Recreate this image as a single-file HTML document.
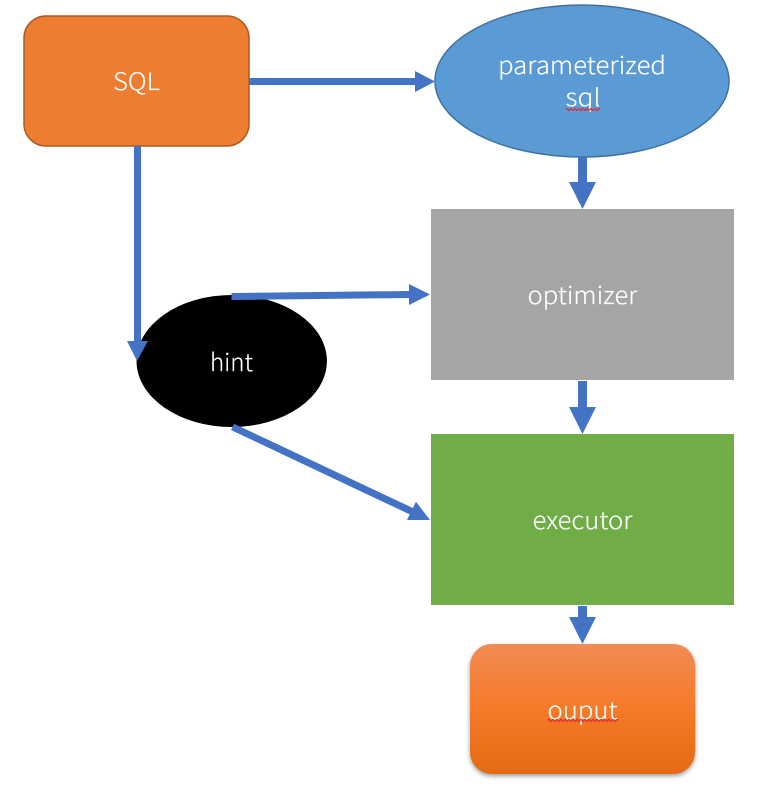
<!DOCTYPE html>
<html>
<head>
<meta charset="utf-8">
<style>
html,body{margin:0;padding:0;background:#fff;width:772px;height:794px;overflow:hidden}
svg{display:block}
text{font-family:"Noto Sans CJK SC","Liberation Sans",sans-serif;font-size:24px;fill:#fff;text-anchor:middle;font-weight:300;stroke:#fff;stroke-width:0.15px}
</style>
</head>
<body>
<svg width="772" height="794" viewBox="0 0 772 794" xmlns="http://www.w3.org/2000/svg">
<defs>
<linearGradient id="g" x1="0" y1="0" x2="0" y2="1">
<stop offset="0" stop-color="#f18c55"/>
<stop offset="0.5" stop-color="#f67a28"/>
<stop offset="1" stop-color="#e56a14"/>
</linearGradient>
<filter id="s" x="-10%" y="-10%" width="120%" height="125%">
<feGaussianBlur stdDeviation="2.5"/>
</filter>
</defs>

<!-- SQL -->
<rect x="24" y="16" width="225" height="130" rx="22" ry="22" fill="#ed7d31" stroke="#ae5a21" stroke-width="1.5"/>
<text x="136.500" y="90" textLength="47" lengthAdjust="spacingAndGlyphs">SQL</text>

<!-- parameterized sql -->
<ellipse cx="582" cy="81" rx="147" ry="76" fill="#5b9bd5" stroke="#41719c" stroke-width="1.5"/>
<text x="582" y="74" textLength="168" lengthAdjust="spacingAndGlyphs">parameterized</text>
<text x="583" y="106" textLength="35" lengthAdjust="spacingAndGlyphs">sql</text>
<path d="M566 109.500 q1 -2 2 0 t2 0 t2 0 t2 0 t2 0 t2 0 t2 0 t2 0 t2 0 t2 0 t2 0 t2 0 t2 0 t2 0 t2 0 t2 0 t2 0" fill="none" stroke="#e0262a" stroke-width="1.2"/>

<!-- optimizer -->
<rect x="431" y="209" width="303" height="171" fill="#a5a5a5"/>
<text x="582.500" y="304" textLength="110" lengthAdjust="spacingAndGlyphs">optimizer</text>

<!-- executor -->
<rect x="431" y="434" width="303" height="171" fill="#70ad47"/>
<text x="582.500" y="529" textLength="100" lengthAdjust="spacingAndGlyphs">executor</text>

<!-- output -->
<rect x="470" y="646" width="225" height="130" rx="22" ry="22" fill="#555" opacity="0.6" filter="url(#s)"/>
<rect x="470" y="644" width="225" height="130" rx="22" ry="22" fill="url(#g)"/>
<text x="582.500" y="719" textLength="70" lengthAdjust="spacingAndGlyphs">ouput</text>
<path d="M548 720.500 q1 -2 2 0 t2 0 t2 0 t2 0 t2 0 t2 0 t2 0 t2 0 t2 0 t2 0 t2 0 t2 0 t2 0 t2 0 t2 0 t2 0 t2 0 t2 0 t2 0 t2 0 t2 0 t2 0 t2 0 t2 0 t2 0 t2 0 t2 0 t2 0 t2 0 t2 0 t2 0 t2 0 t2 0 t2 0 t2 0" fill="none" stroke="#e0262a" stroke-width="1.2"/>

<!-- hint -->
<ellipse cx="231.700" cy="361" rx="95.200" ry="66" fill="#000"/>
<text x="231.500" y="371" textLength="43" lengthAdjust="spacingAndGlyphs">hint</text>

<!-- arrows -->
<g fill="#4472c4">
<rect x="249" y="78" width="167" height="7"/>
<polygon points="415,71 435,81.500 415,92"/>
<rect x="578" y="157" width="9" height="26"/>
<polygon points="569,182 596,182 582.500,209"/>
<rect x="134" y="146" width="7" height="196"/>
<polygon points="127,341 148,341 137,361"/>
<polygon points="231.500,293 409,291 409,298 231.500,300"/>
<polygon points="409,284 430,294.500 409,305"/>
<rect x="578" y="381" width="9" height="27"/>
<polygon points="569,407 596,407 582.500,434"/>
<polygon points="234,423.700 231,430 412,515.500 415,509"/>
<polygon points="416,501.700 430,520 407,520"/>
<rect x="578" y="606" width="9" height="12"/>
<polygon points="569,617 596,617 582.500,644"/>
</g>
</svg>
</body>
</html>
